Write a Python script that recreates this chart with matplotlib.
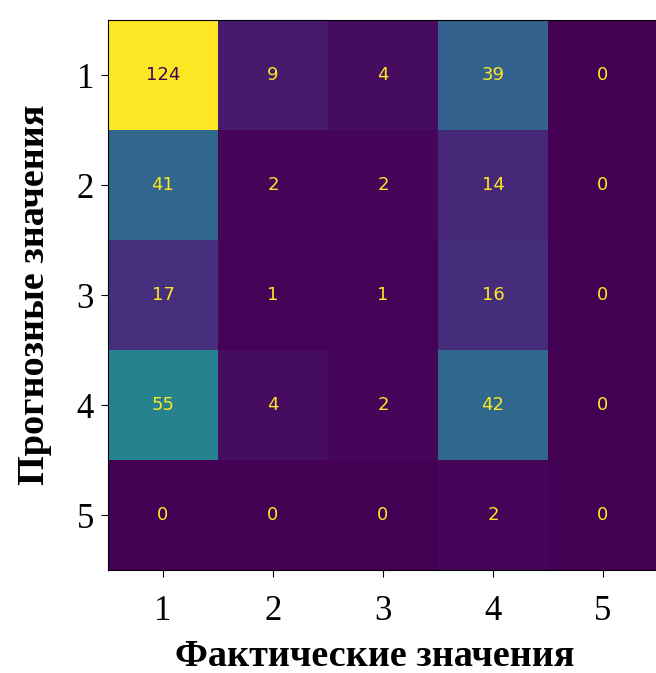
import numpy as np
import matplotlib
matplotlib.use("Agg")
import matplotlib.pyplot as plt

labels = ["1", "2", "3", "4", "5"]
# строки - прогноз, столбцы - факт
matrix = np.array([
    [124, 9, 4, 39, 0],
    [41, 2, 2, 14, 0],
    [17, 1, 1, 16, 0],
    [55, 4, 2, 42, 0],
    [0, 0, 0, 2, 0],
])

fig = plt.figure(figsize=(6.56, 6.73), dpi=100)
ax = fig.add_axes([108 / 656, 1 - 570 / 673, 550 / 656, 550 / 673])

cmap = plt.get_cmap("viridis")
ax.imshow(matrix, cmap=cmap, vmin=matrix.min(), vmax=matrix.max(), aspect="auto")

thresh = (matrix.max() + matrix.min()) / 2
for i in range(matrix.shape[0]):
    for j in range(matrix.shape[1]):
        color = cmap(0.0) if matrix[i, j] > thresh else cmap(1.0)
        ax.text(j, i, str(matrix[i, j]), ha="center", va="center",
                color=color, fontsize=13, family="DejaVu Sans")

ax.set_xticks(range(len(labels)))
ax.set_yticks(range(len(labels)))
ax.set_xticklabels(labels, family="Liberation Serif", fontsize=25)
ax.set_yticklabels(labels, family="Liberation Serif", fontsize=25)
ax.tick_params(length=5)
ax.tick_params(axis="x", pad=13)
ax.tick_params(axis="y", pad=5)

ax.set_xlabel("Фактические значения", family="Liberation Serif",
              fontweight="bold", fontsize=27.5, labelpad=8)
ax.xaxis.label.set_x(0.485)
ax.set_ylabel("Прогнозные значения", family="Liberation Serif",
              fontweight="bold", fontsize=27.5, labelpad=18)

fig.savefig("out.png", dpi=100)
